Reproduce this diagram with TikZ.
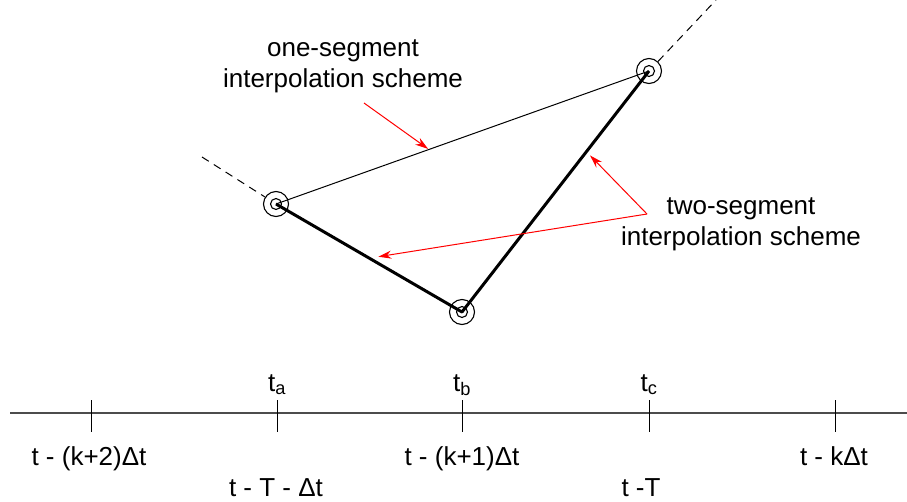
\documentclass[tikz,border=0pt]{standalone}
\usepackage{fontspec}
\setmainfont{Liberation Sans}
\usetikzlibrary{arrows.meta,calc}

\begin{document}
\begin{tikzpicture}[
  x=1pt,y=-1pt,
  >=Stealth,
  every node/.style={font=\fontsize{26}{31}\selectfont},
  knot/.style={circle,draw,line width=1.1pt,minimum size=25pt,inner sep=0pt,
    path picture={\draw[line width=1.1pt] (path picture bounding box.center) circle (5.5pt);}},
  onepiece/.style={line width=1pt},
  twopiece/.style={line width=3pt,line join=round},
  extend/.style={line width=1pt,dash pattern=on 8pt off 6pt},
  pointer/.style={->,red,line width=1pt,shorten >=1pt,>={Stealth[length=13pt,width=8pt]}},
  timeline/.style={line width=2pt,black!70},
  tick/.style={line width=1pt},
  label/.style={align=center,inner sep=0pt},
  stamp/.style={anchor=base,inner sep=0pt}
]
  \useasboundingbox (0,0) rectangle (907,501);

  % interpolation knots
  \node[knot] (ka) at (276,204) {};
  \node[knot] (kb) at (462,312) {};
  \node[knot] (kc) at (649,71) {};
  \coordinate (ea) at (202,157);
  \coordinate (ec) at (716,0);

  \draw[extend] (ea) -- (ka);
  \draw[extend] (kc) -- (ec);
  \draw[onepiece] (ka.center) -- (kc.center);
  \draw[twopiece] (ka.center) -- (kb.center) -- (kc.center);

  % labels and pointers
  \node[label] (one) at (343,66) {one-segment\\interpolation scheme};
  \node[label] (two) at (741,224) {two-segment\\interpolation scheme};
  \coordinate (s1) at (364,103);
  \coordinate (s2) at (647,214);
  \coordinate (p1) at ($(ka.center)!0.41!(kc.center)$);
  \coordinate (p2) at ($(kb.center)!0.665!(kc.center)+(3,3)$);
  \coordinate (p3) at ($(ka.center)!0.545!(kb.center)+(0,-6)$);
  \draw[pointer] (s1) -- (p1);
  \draw[pointer] (s2) -- (p2);
  \draw[pointer] (s2) -- (p3);

  % time axis
  \coordinate (t0) at (10,413);
  \coordinate (t1) at (907,413);
  \draw[timeline] (t0) -- (t1);
  \foreach \x/\n in {91/m2,277/ta,462/tb,649/tc,835/k}
    \draw[tick] (\x,400) coordinate (\n) -- (\x,432);

  \node[stamp] (la) at (277,391) {t\textsubscript{a}};
  \node[stamp] (lb) at (462,391) {t\textsubscript{b}};
  \node[stamp] (lc) at (649,391) {t\textsubscript{c}};

  \node[stamp] (d2) at (89,465) {t - (k+2)Δt};
  \node[stamp] (d1) at (462,465) {t - (k+1)Δt};
  \node[stamp] (d0) at (834,465) {t - kΔt};
  \node[stamp] (dT) at (276,496) {t - T - Δt};
  \node[stamp] (T) at (641,496) {t -T};
\end{tikzpicture}
\end{document}
